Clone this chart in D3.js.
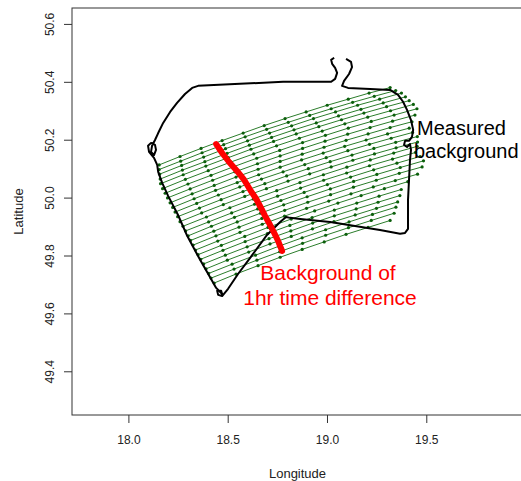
<!DOCTYPE html>
<html>
<head>
<meta charset="utf-8">
<script src="https://cdn.jsdelivr.net/npm/d3@7"></script>
<style>
  body { margin: 0; background: #fff; }
  svg { display: block; font-family: "Liberation Sans", Arial, sans-serif; }
</style>
</head>
<body>
<svg></svg>
<script>
// Defining variables
const width = 521
const height = 481
const box = { left: 72, right: 523, top: 8, bottom: 415 }

const lonTicks = [18.0, 18.5, 19.0, 19.5]
const latTicks = [49.4, 49.6, 49.8, 50.0, 50.2, 50.4, 50.6]

// flight track (null = gap)
const trackLon = [18.145,18.129,18.104,18.099,18.114,18.134,18.139,18.129,18.114,18.119,18.134,18.150,18.175,18.210,18.245,18.285,18.321,18.351,18.562,18.779,18.965,19.021,19.041,19.051,19.041,19.026,19.021,19.036,
  null,
  19.096,19.121,19.126,19.111,19.086,19.076,19.106,19.217,19.318,19.358,19.383,19.403,19.423,19.434,19.428,19.413,19.393,19.388,19.403,19.418,19.423,19.418,19.413,19.408,19.408,19.408,19.393,19.368,19.267,19.141,19.016,18.865,18.814,18.794,18.764,18.698,18.613,18.552,18.502,18.472,18.452,18.447,18.467,18.472,18.442,18.361,18.296,18.250,18.200,18.170,18.150,18.145]
const trackLat = [50.113,50.137,50.158,50.179,50.189,50.182,50.165,50.147,50.158,50.179,50.199,50.223,50.258,50.296,50.327,50.358,50.379,50.386,50.393,50.400,50.400,50.400,50.410,50.431,50.448,50.462,50.476,50.483,
  null,
  50.479,50.469,50.451,50.427,50.403,50.386,50.379,50.375,50.372,50.355,50.331,50.303,50.268,50.234,50.210,50.196,50.196,50.182,50.175,50.185,50.165,50.130,50.061,49.992,49.923,49.892,49.878,49.875,49.888,49.902,49.916,49.926,49.930,49.933,49.916,49.871,49.792,49.736,49.685,49.660,49.664,49.678,49.678,49.667,49.688,49.785,49.868,49.940,50.006,50.051,50.089,50.113]

// 1 hr background line
const redLon = [18.442,18.472,18.507,18.547,18.583,18.613,18.643,18.668,18.688,18.713,18.734,18.754,18.774]
const redLat = [50.185,50.154,50.123,50.092,50.061,50.027,49.996,49.964,49.937,49.906,49.878,49.850,49.816]

// trajectories, one row per trajectory
const trajLon = [
  [18.155,18.260,18.366,18.472,18.578,18.684,18.789,18.895,19.001,19.107,19.212,19.318],
  [18.155,18.263,18.371,18.480,18.588,18.696,18.805,18.913,19.021,19.129,19.238,19.346],
  [18.157,18.268,18.379,18.489,18.600,18.711,18.822,18.932,19.043,19.154,19.265,19.375],
  [18.160,18.272,18.385,18.497,18.609,18.721,18.834,18.946,19.058,19.171,19.283,19.395],
  [18.162,18.276,18.390,18.503,18.617,18.731,18.845,18.959,19.073,19.186,19.300,19.414],
  [18.172,18.287,18.402,18.516,18.631,18.746,18.861,18.976,19.090,19.205,19.320,19.435],
  [18.185,18.300,18.416,18.531,18.646,18.762,18.877,18.992,19.107,19.223,19.338,19.453],
  [18.197,18.311,18.424,18.537,18.650,18.764,18.877,18.990,19.104,19.217,19.330,19.443],
  [18.210,18.321,18.432,18.542,18.653,18.764,18.875,18.985,19.096,19.207,19.318,19.428],
  [18.223,18.331,18.439,18.548,18.656,18.764,18.872,18.981,19.089,19.197,19.305,19.414],
  [18.235,18.344,18.453,18.561,18.670,18.779,18.888,18.996,19.105,19.214,19.323,19.431],
  [18.248,18.358,18.467,18.577,18.687,18.797,18.906,19.016,19.126,19.236,19.346,19.455],
  [18.260,18.369,18.478,18.586,18.695,18.804,18.913,19.021,19.130,19.239,19.348,19.456],
  [18.275,18.393,18.511,18.629,18.747,18.864,18.982,19.100,19.218,19.336,19.454],
  [18.288,18.404,18.520,18.635,18.751,18.867,18.983,19.099,19.214,19.330,19.446],
  [18.301,18.418,18.534,18.651,18.768,18.885,19.002,19.119,19.235,19.352,19.469],
  [18.313,18.430,18.548,18.665,18.782,18.900,19.017,19.134,19.251,19.369,19.486],
  [18.326,18.441,18.557,18.672,18.787,18.903,19.018,19.133,19.248,19.364,19.479],
  [18.338,18.450,18.562,18.674,18.786,18.897,19.009,19.121,19.233,19.344,19.456],
  [18.351,18.468,18.586,18.703,18.820,18.938,19.055,19.172,19.289,19.407],
  [18.364,18.476,18.588,18.700,18.813,18.925,19.037,19.150,19.262,19.374],
  [18.379,18.488,18.598,18.708,18.818,18.928,19.037,19.147,19.257,19.367],
  [18.391,18.498,18.606,18.713,18.820,18.927,19.035,19.142,19.249,19.356],
  [18.404,18.522,18.640,18.757,18.875,18.993,19.111,19.229,19.347],
  [18.416,18.532,18.647,18.762,18.877,18.993,19.108,19.223,19.338],
  [18.432,18.542,18.653,18.764,18.875,18.986,19.096,19.207,19.318]
]
const trajLat = [
  [50.113,50.142,50.170,50.197,50.223,50.249,50.273,50.296,50.319,50.340,50.361,50.380],
  [50.097,50.126,50.155,50.183,50.210,50.236,50.260,50.284,50.307,50.329,50.350,50.370],
  [50.081,50.111,50.140,50.169,50.196,50.223,50.248,50.273,50.296,50.319,50.340,50.361],
  [50.064,50.095,50.124,50.153,50.181,50.208,50.234,50.258,50.282,50.305,50.327,50.348],
  [50.048,50.079,50.109,50.138,50.167,50.194,50.220,50.245,50.269,50.292,50.314,50.335],
  [50.031,50.063,50.093,50.123,50.151,50.179,50.205,50.230,50.255,50.278,50.300,50.322],
  [50.015,50.047,50.077,50.107,50.136,50.163,50.190,50.215,50.240,50.263,50.285,50.307],
  [49.999,50.030,50.060,50.089,50.117,50.144,50.170,50.195,50.219,50.242,50.264,50.285],
  [49.982,50.013,50.042,50.071,50.098,50.125,50.150,50.174,50.198,50.220,50.242,50.262],
  [49.966,49.996,50.025,50.052,50.079,50.105,50.130,50.154,50.177,50.199,50.220,50.240],
  [49.950,49.980,50.009,50.037,50.064,50.089,50.114,50.138,50.162,50.184,50.205,50.225],
  [49.934,49.964,49.993,50.021,50.048,50.075,50.100,50.124,50.147,50.170,50.191,50.211],
  [49.917,49.947,49.976,50.004,50.031,50.057,50.082,50.106,50.129,50.151,50.172,50.192],
  [49.901,49.933,49.965,49.995,50.024,50.052,50.079,50.105,50.130,50.154,50.177],
  [49.885,49.916,49.947,49.977,50.005,50.033,50.060,50.085,50.110,50.133,50.156],
  [49.868,49.901,49.932,49.961,49.990,50.018,50.045,50.071,50.096,50.119,50.142],
  [49.852,49.884,49.916,49.946,49.975,50.003,50.030,50.056,50.080,50.104,50.127],
  [49.836,49.868,49.898,49.928,49.956,49.984,50.010,50.036,50.060,50.084,50.106],
  [49.819,49.850,49.880,49.908,49.936,49.963,49.988,50.013,50.037,50.059,50.081],
  [49.803,49.835,49.866,49.897,49.926,49.954,49.981,50.007,50.031,50.055],
  [49.787,49.818,49.848,49.876,49.904,49.931,49.957,49.981,50.005,50.028],
  [49.771,49.801,49.830,49.858,49.885,49.912,49.937,49.961,49.984,50.007],
  [49.754,49.784,49.812,49.840,49.866,49.892,49.917,49.940,49.963,49.985],
  [49.738,49.770,49.801,49.832,49.861,49.889,49.916,49.942,49.967],
  [49.722,49.753,49.784,49.813,49.842,49.870,49.896,49.921,49.946],
  [49.705,49.736,49.765,49.794,49.821,49.847,49.873,49.897,49.921]
]

const svg = d3.select('svg')
    .attr('width', width)
    .attr('height', height)

// Scales
const xScale = d3.scaleLinear()
    .domain([17.716, 19.987])
    .range([box.left, box.right])
const yScale = d3.scaleLinear()
    .domain([49.249, 50.655])
    .range([box.bottom, box.top])

const zip = (lons, lats) => lons.map((d, i) => [d, lats[i]])

const line = d3.line()
    .defined(d => d[0] !== null)
    .x(d => xScale(d[0]))
    .y(d => yScale(d[1]))

let drawTrajectories = () => {
    const g = svg.append('g')
    trajLon.forEach((lons, k) => {
        const pts = zip(lons, trajLat[k])
        g.append('path')
            .attr('d', line(pts))
            .attr('fill', 'none')
            .attr('stroke', '#2b7d2b')
            .attr('stroke-width', 1)
        g.selectAll(null)
            .data(pts)
            .enter()
            .append('circle')
            .attr('cx', d => xScale(d[0]))
            .attr('cy', d => yScale(d[1]))
            .attr('r', 1.6)
            .attr('fill', '#0b5e0b')
    })
}

let drawTrack = () => {
    svg.append('path')
        .attr('d', line(zip(trackLon, trackLat)))
        .attr('fill', 'none')
        .attr('stroke', '#000')
        .attr('stroke-width', 2)
        .attr('stroke-linejoin', 'round')

    svg.append('path')
        .attr('d', line(zip(redLon, redLat)))
        .attr('fill', 'none')
        .attr('stroke', '#ff0000')
        .attr('stroke-width', 6)
        .attr('stroke-linecap', 'round')
        .attr('stroke-linejoin', 'round')
}

let drawAxes = () => {
    svg.append('rect')
        .attr('x', box.left)
        .attr('y', box.top)
        .attr('width', box.right - box.left)
        .attr('height', box.bottom - box.top)
        .attr('fill', 'none')
        .attr('stroke', '#333')

    const xAxis = svg.append('g')
        .attr('transform', 'translate(0,' + box.bottom + ')')
        .call(d3.axisBottom(xScale).tickValues(lonTicks).tickSize(8).tickFormat(d3.format('.1f')))
    xAxis.select('.domain').remove()
    xAxis.selectAll('line').attr('stroke', '#333')
    xAxis.selectAll('text')
        .attr('y', 29).attr('dy', 0)
        .attr('fill', '#222')
        .style('font-size', '12px')
        .style('font-family', '"Liberation Sans", Arial, sans-serif')

    const yAxis = svg.append('g')
        .attr('transform', 'translate(' + box.left + ',0)')
        .call(d3.axisLeft(yScale).tickValues(latTicks).tickSize(8).tickFormat(d3.format('.1f')))
    yAxis.select('.domain').remove()
    yAxis.selectAll('line').attr('stroke', '#333')
    yAxis.selectAll('text')
        .attr('transform', 'rotate(-90)')
        .attr('x', 0).attr('y', -18.5).attr('dy', 0)
        .attr('text-anchor', 'middle')
        .attr('fill', '#222')
        .style('font-size', '12px')
        .style('font-family', '"Liberation Sans", Arial, sans-serif')

    svg.append('text')
        .attr('x', (box.left + box.right) / 2)
        .attr('y', 478)
        .attr('text-anchor', 'middle')
        .attr('fill', '#222')
        .style('font-size', '13px')
        .text('Longitude')

    svg.append('text')
        .attr('transform', 'translate(22.5,' + ((box.top + box.bottom) / 2) + ') rotate(-90)')
        .attr('text-anchor', 'middle')
        .attr('fill', '#222')
        .style('font-size', '13px')
        .text('Latitude')
}

let drawLabels = () => {
    const black = svg.append('text')
        .attr('fill', '#000')
        .style('font-size', '20px')
    black.append('tspan').attr('x', 417).attr('y', 135).text('Measured')
    black.append('tspan').attr('x', 414).attr('y', 158).text('background')

    const red = svg.append('text')
        .attr('fill', '#ff0000')
        .attr('text-anchor', 'middle')
        .style('font-size', '21px')
    red.append('tspan').attr('x', 328).attr('y', 280).text('Background of')
    red.append('tspan').attr('x', 330).attr('y', 305).text('1hr time difference')
}

drawTrajectories()
drawTrack()
drawAxes()
drawLabels()
</script>
</body>
</html>
